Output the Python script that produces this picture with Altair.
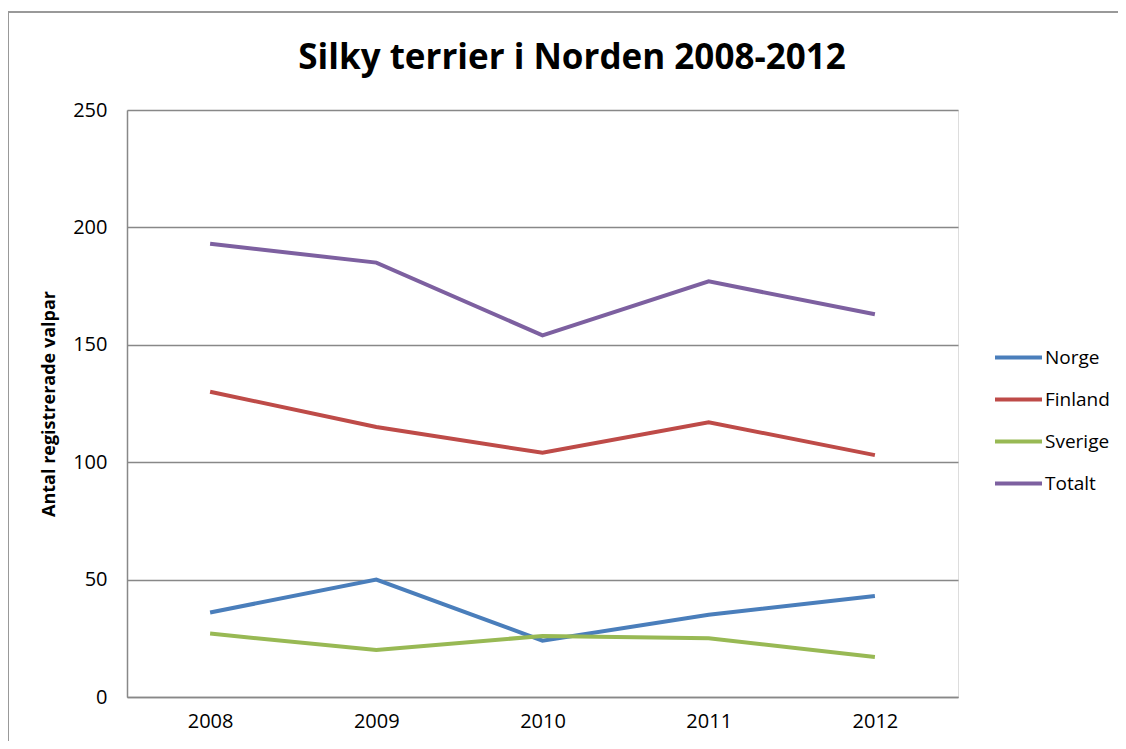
import altair as alt
import pandas as pd

years = ["2008", "2009", "2010", "2011", "2012"]
norge = [36, 50, 24, 35, 43]
finland = [130, 115, 104, 117, 103]
sverige = [27, 20, 26, 25, 17]
totalt = [193, 185, 154, 177, 163]
series = ["Norge", "Finland", "Sverige", "Totalt"]
colors = ["#4a7ebb", "#be4b48", "#98b954", "#7d60a0"]
title_text = "Silky terrier i Norden 2008-2012"

rows = []
for name, vals in zip(series, [norge, finland, sverige, totalt]):
    for y, v in zip(years, vals):
        rows.append({"year": y, "value": v, "series": name})
df = pd.DataFrame(rows)

FONT = "Open Sans"

lines = alt.Chart(df).mark_line(strokeWidth=4).encode(
    x=alt.X("year:N", sort=years, scale=alt.Scale(type="point", padding=0.5),
            axis=alt.Axis(title=None, labelAngle=0, ticks=False, labelPadding=14,
                          labelFontSize=20, labelColor="#000", labelFont=FONT,
                          domainColor="#888", domainWidth=1.5, grid=False)),
    y=alt.Y("value:Q", scale=alt.Scale(domain=[0, 250], nice=False),
            axis=alt.Axis(title="Antal registrerade valpar", values=[0, 50, 100, 150, 200, 250],
                          ticks=False, labelPadding=20, labelFontSize=20, labelColor="#000",
                          labelFont=FONT, titleFont=FONT, titleFontSize=18, titleFontWeight="bold",
                          titleColor="#000", titlePadding=14, gridColor="#888", gridWidth=1.5,
                          domainColor="#888", domainWidth=1.5)),
    color=alt.Color("series:N", sort=series, scale=alt.Scale(domain=series, range=colors),
                    legend=alt.Legend(title=None, orient="none", legendX=866, legendY=222,
                                      symbolType="stroke", symbolSize=2209, symbolStrokeWidth=4,
                                      labelFontSize=19, labelFont=FONT, labelColor="#000",
                                      labelOffset=1, rowPadding=6)),
)

title = alt.Chart(alt.Data(values=[{"t": title_text}])).mark_text(
    font=FONT, fontSize=35, fontWeight="bold", color="#000", align="center", baseline="middle"
).encode(x=alt.value(445), y=alt.value(-52), text="t:N")

frame = alt.Chart(alt.Data(values=[{}])).mark_rule(color="#999", strokeWidth=2).encode(
    x=alt.value(-119), y=alt.value(-98), y2=alt.value(640)
)
frame_top = alt.Chart(alt.Data(values=[{}])).mark_rule(color="#999", strokeWidth=2).encode(
    x=alt.value(-119), x2=alt.value(1000), y=alt.value(-98)
)

chart = alt.layer(lines, title, frame, frame_top).properties(
    width=831, height=587,
    autosize=alt.AutoSizeParams(type="none"),
    padding={"left": 119, "top": 102, "right": 160, "bottom": 44},
).configure_view(stroke=None).configure(background="white")

chart.save("out.html", embed_options={"renderer": "svg", "actions": False})
